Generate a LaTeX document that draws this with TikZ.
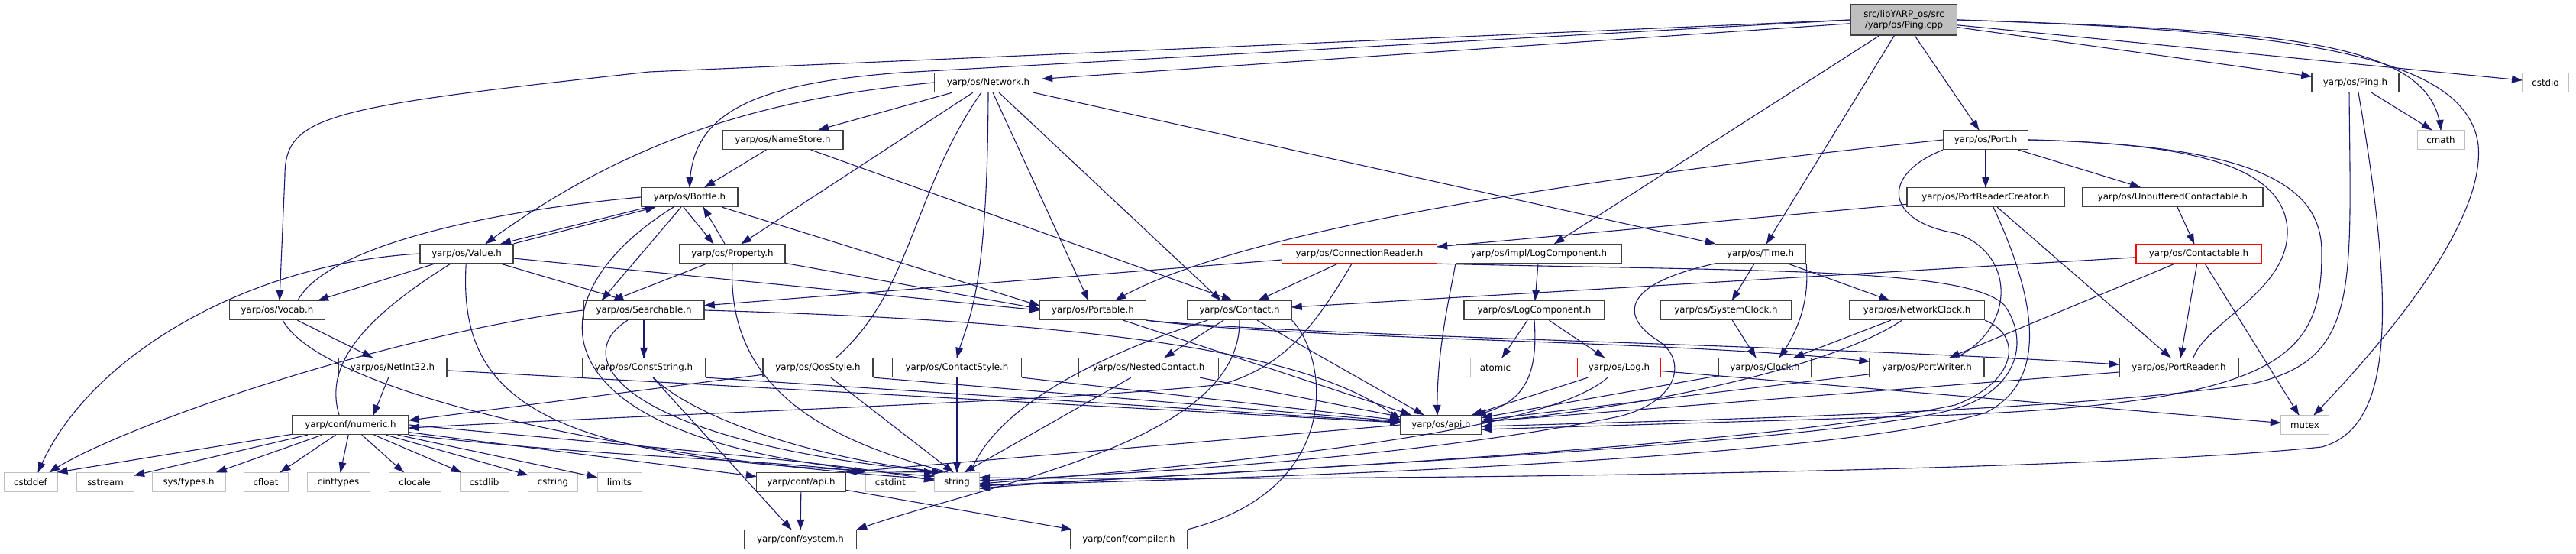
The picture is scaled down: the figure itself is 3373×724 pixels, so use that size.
\documentclass[tikz,border=0pt]{standalone}
\usepackage{fontspec}
\setmainfont{DejaVu Sans}
\usepackage{tikz}
\usetikzlibrary{decorations.markings}
\definecolor{EdgeBlue}{HTML}{191970}
\definecolor{BoxGrey}{HTML}{404040}
\definecolor{SysGrey}{HTML}{BFBFBF}
\definecolor{RootFill}{HTML}{BFBFBF}
\definecolor{WarnRed}{HTML}{FF0000}
\tikzset{
  % Base header box
  HB/.style={rectangle,minimum height=25pt,inner sep=0pt,
             text centered,align=center,draw,line width=1.3pt,fill=white,
             font=\fontsize{11.8}{14}\selectfont},
  % Box variants
  hN/.style={HB,draw=BoxGrey},
  hR/.style={HB,draw=WarnRed},
  hS/.style={HB,draw=SysGrey,line width=1pt},
  hT/.style={HB,draw=BoxGrey,fill=RootFill,minimum height=40pt},
  % Include arrow, head put on as a marking
  inc/.style={line width=1.1pt,EdgeBlue,
              postaction={decorate,decoration={markings,
                mark=at position 1 with {\fill[EdgeBlue] (0.5pt,0pt) -- (-13pt,5pt) -- (-13pt,-5pt) -- cycle;}}}}
}

\begin{document}
\begin{tikzpicture}[x=1pt,y=1pt]
  \useasboundingbox (0,0) rectangle (3373,-724);
  % Header boxes, row by row
  \node[hT,minimum width=139] (cpp) at (2493,-26) {src/libYARP\_os/src\\/yarp/os/Ping.cpp};
  \node[hN,minimum width=141] (net) at (1294,-108) {yarp/os/Network.h};
  \node[hN,minimum width=114] (pingh) at (3084,-108) {yarp/os/Ping.h};
  \node[hS,minimum width=61] (cstdio) at (3333,-108) {cstdio};
  \node[hN,minimum width=158] (names) at (1025,-183) {yarp/os/NameStore.h};
  \node[hN,minimum width=111] (port) at (2600,-183) {yarp/os/Port.h};
  \node[hS,minimum width=62] (cmath) at (3196,-183) {cmath};
  \node[hN,minimum width=126] (bottle) at (903,-258) {yarp/os/Bottle.h};
  \node[hN,minimum width=206] (prc) at (2600,-258) {yarp/os/PortReaderCreator.h};
  \node[hN,minimum width=236] (unbuf) at (2845,-258) {yarp/os/UnbufferedContactable.h};
  \node[hN,minimum width=122] (value) at (611,-332) {yarp/os/Value.h};
  \node[hN,minimum width=138] (prop) at (959,-332) {yarp/os/Property.h};
  \node[hR,minimum width=203] (connr) at (1780,-332) {yarp/os/ConnectionReader.h};
  \node[hN,minimum width=217] (implog) at (2015,-332) {yarp/os/impl/LogComponent.h};
  \node[hN,minimum width=119] (time) at (2305,-332) {yarp/os/Time.h};
  \node[hR,minimum width=164] (cable) at (2879,-332) {yarp/os/Contactable.h};
  \node[hN,minimum width=125] (vocab) at (363,-406) {yarp/os/Vocab.h};
  \node[hN,minimum width=158] (search) at (843,-406) {yarp/os/Searchable.h};
  \node[hN,minimum width=139] (portable) at (1431,-406) {yarp/os/Portable.h};
  \node[hN,minimum width=136] (contact) at (1623,-406) {yarp/os/Contact.h};
  \node[hN,minimum width=184] (logc) at (2009,-406) {yarp/os/LogComponent.h};
  \node[hN,minimum width=171] (sysclk) at (2260,-406) {yarp/os/SystemClock.h};
  \node[hN,minimum width=177] (netclk) at (2510,-406) {yarp/os/NetworkClock.h};
  \node[hN,minimum width=142] (netint) at (514,-481) {yarp/os/NetInt32.h};
  \node[hN,minimum width=161] (cstr) at (843,-481) {yarp/os/ConstString.h};
  \node[hN,minimum width=144] (qos) at (1071,-481) {yarp/os/QosStyle.h};
  \node[hN,minimum width=169] (cstyle) at (1253,-481) {yarp/os/ContactStyle.h};
  \node[hN,minimum width=183] (nested) at (1504,-481) {yarp/os/NestedContact.h};
  \node[hS,minimum width=66] (atomic) at (1958,-481) {atomic};
  \node[hR,minimum width=109] (log) at (2120,-481) {yarp/os/Log.h};
  \node[hN,minimum width=122] (clock) at (2311,-481) {yarp/os/Clock.h};
  \node[hN,minimum width=150] (pwriter) at (2523,-481) {yarp/os/PortWriter.h};
  \node[hN,minimum width=156] (preader) at (2853,-481) {yarp/os/PortReader.h};
  \node[hN,minimum width=152] (numeric) at (459,-556) {yarp/conf/numeric.h};
  \node[hN,minimum width=106] (osapi) at (1887,-556) {yarp/os/api.h};
  \node[hS,minimum width=63] (mutex) at (3018,-556) {mutex};
  \node[hS,minimum width=70] (cstddef) at (40,-631) {cstddef};
  \node[hS,minimum width=75] (sstream) at (138,-631) {sstream};
  \node[hS,minimum width=96] (systypes) at (247,-631) {sys/types.h};
  \node[hS,minimum width=58] (cfloat) at (348,-631) {cfloat};
  \node[hS,minimum width=82] (cinttypes) at (443,-631) {cinttypes};
  \node[hS,minimum width=68] (clocale) at (543,-631) {clocale};
  \node[hS,minimum width=64] (cstdlib) at (634,-631) {cstdlib};
  \node[hS,minimum width=65] (cstring) at (724,-631) {cstring};
  \node[hS,minimum width=58] (limits) at (811,-631) {limits};
  \node[hN,minimum width=117] (confapi) at (1049,-631) {yarp/conf/api.h};
  \node[hS,minimum width=66] (cstdint) at (1166,-631) {cstdint};
  \node[hS,minimum width=59] (string) at (1253,-631) {string};
  \node[hN,minimum width=147] (system) at (1048,-706) {yarp/conf/system.h};
  \node[hN,minimum width=153] (compiler) at (1478,-706) {yarp/conf/compiler.h};

  % Ping.cpp
  \draw[inc] (cpp) -- (net);
  \draw[inc] (cpp.west) -- (1180,-95) .. controls (980,-110) and (905,-150) .. (bottle.north);
  \draw[inc] (cpp.west) -- (850,-94) .. controls (430,-140) and (373,-150) .. (373,-230) -- ([xshift=3]vocab.north);
  \draw[inc] (cpp) -- (implog);
  \draw[inc] (cpp) -- (time);
  \draw[inc] (cpp) -- (port);
  \draw[inc] (cpp) -- (pingh);
  \draw[inc] (cpp) -- (cstdio);
  \draw[inc] (cpp.east) .. controls (3000,-40) and (3185,-55) .. (cmath.north);
  \draw[inc] (cpp.east) .. controls (3000,-40) and (3230,-70) .. (3245,-190) .. controls (3255,-300) and (3100,-470) .. ([xshift=12]mutex.north);
  % Ping.h
  \draw[inc] (pingh) -- ([xshift=-12]cmath.north);
  \draw[inc] ([xshift=-8]pingh.south) .. controls (3078,-380) and (3090,-470) .. (2950,-502) .. controls (2700,-540) and (2200,-550) .. ([yshift=-2]osapi.east);
  \draw[inc] ([xshift=4]pingh.south) .. controls (3140,-420) and (3130,-560) .. (3040,-585) .. controls (2700,-620) and (1700,-630) .. ([yshift=6]string.east);
  % Network.h
  \draw[inc] (net.west) .. controls (1050,-125) and (850,-160) .. ([xshift=25]value.north);
  \draw[inc] (net) -- (names);
  \draw[inc] (net) -- ([xshift=12]prop.north);
  \draw[inc] (net) .. controls (1195,-250) and (1195,-380) .. ([xshift=24]qos.north);
  \draw[inc] (net.south) .. controls (1293,-400) and (1265,-420) .. (cstyle.north);
  \draw[inc] (net) -- (portable);
  \draw[inc] (net) -- ([xshift=-25]contact.north);
  \draw[inc] (net) -- (time);
  % NameStore.h
  \draw[inc] (names) -- ([xshift=20]bottle.north);
  \draw[inc] (names) -- ([xshift=-10]contact.north);
  % Bottle.h
  \draw[inc] ([xshift=-55]bottle.south) -- ([xshift=45]value.north);
  \draw[inc] (value.north east) -- ([xshift=-45]bottle.south);
  \draw[inc] ([xshift=-8]bottle.south) -- ([xshift=-25]prop.north);
  \draw[inc] ([xshift=-10]prop.north) -- ([xshift=18]bottle.south);
  \draw[inc] (bottle) -- ([xshift=-55]search.north);
  \draw[inc] (bottle) -- ([yshift=6]portable.west);
  \draw[inc] (bottle.west) .. controls (650,-275) and (430,-320) .. ([xshift=27]vocab.north);
  \draw[inc] (bottle) .. controls (690,-390) and (680,-590) .. ([yshift=8]string.west);
  % Value.h
  \draw[inc] (value.west) .. controls (320,-345) and (110,-470) .. ([xshift=10]cstddef.north);
  \draw[inc] (value) -- ([xshift=54]vocab.north);
  \draw[inc] (value) .. controls (470,-420) and (425,-480) .. ([xshift=-15]numeric.north);
  \draw[inc] (value) .. controls (600,-520) and (700,-610) .. (string.north west);
  \draw[inc] (value) -- ([xshift=-25]search.north);
  \draw[inc] (value) -- (portable.west);
  % Property.h
  \draw[inc] (prop) -- ([xshift=-40]search.north);
  \draw[inc] (prop) -- ([yshift=2]portable.west);
  \draw[inc] (prop.south) .. controls (950,-520) and (1100,-580) .. ([xshift=-12]string.north);
  % Searchable.h
  \draw[inc] (search) -- (cstr);
  \draw[inc] (search.west) .. controls (500,-440) and (150,-560) .. ([xshift=25]cstddef.north);
  \draw[inc] (search.east) .. controls (1400,-420) and (1720,-455) .. ([yshift=6]osapi.west);
  \draw[inc] (search) .. controls (740,-470) and (820,-580) .. ([xshift=-20]string.north);
  % Vocab.h, NetInt32.h
  \draw[inc] (vocab) -- (netint);
  \draw[inc] (vocab) .. controls (420,-510) and (800,-600) .. ([yshift=4]string.west);
  \draw[inc] (netint) -- ([xshift=30]numeric.north);
  \draw[inc] (netint) -- (osapi);
  % ConstString.h
  \draw[inc] (cstr.south east) -- (osapi);
  \draw[inc] (cstr) .. controls (900,-540) and (1050,-600) .. ([xshift=-16]string.north);
  \draw[inc] (cstr) -- (system);
  % QosStyle.h, ContactStyle.h, NestedContact.h
  \draw[inc] (qos) -- ([yshift=6]numeric.east);
  \draw[inc] (qos) -- ([xshift=-5]string.north);
  \draw[inc] (qos.south east) -- (osapi);
  \draw[inc] (cstyle) -- (string.north);
  \draw[inc] (cstyle.south east) -- (osapi);
  \draw[inc] (nested) -- ([xshift=10]string.north);
  \draw[inc] (nested) -- (osapi);
  % Contact.h
  \draw[inc] (contact) -- (nested);
  \draw[inc] (contact) .. controls (1420,-470) and (1300,-540) .. ([xshift=18]string.north);
  \draw[inc] (contact.south) .. controls (1625,-580) and (1300,-630) .. (system.north east);
  \draw[inc] (contact.south east) .. controls (1740,-470) and (1760,-640) .. (compiler.north east);
  \draw[inc] (contact) -- (osapi);
  % Portable.h
  \draw[inc] (portable) -- (osapi);
  \draw[inc] (portable.south east) .. controls (1700,-445) and (2200,-445) .. ([yshift=8]pwriter.west);
  \draw[inc] (portable.south east) .. controls (1700,-440) and (2400,-452) .. ([yshift=4]preader.west);
  % Port.h
  \draw[inc] (port) -- (prc);
  \draw[inc] (port) -- (unbuf);
  \draw[inc] (port.west) .. controls (2000,-240) and (1600,-310) .. ([xshift=30]portable.north);
  \draw[inc] (port.east) .. controls (2880,-188) and (2990,-220) .. (2995,-300) .. controls (2998,-380) and (2890,-420) .. ([xshift=19]preader.north);
  \draw[inc] (port.east) .. controls (2950,-190) and (3040,-240) .. (3040,-330) .. controls (3040,-470) and (2990,-530) .. (2500,-545) -- ([yshift=-6]osapi.east);
  \draw[inc] (port.south west) .. controls (2460,-230) and (2470,-290) .. (2560,-305) .. controls (2640,-330) and (2640,-430) .. ([xshift=38]pwriter.north);
  % PortReaderCreator.h, UnbufferedContactable.h
  \draw[inc] (prc) -- (connr);
  \draw[inc] (prc) -- ([xshift=-11]preader.north);
  \draw[inc] ([xshift=10]prc.south) .. controls (2670,-400) and (2680,-500) .. (2600,-540) .. controls (2400,-600) and (1700,-625) .. ([yshift=-4]string.east);
  \draw[inc] (unbuf) -- (cable);
  % Contactable.h
  \draw[inc] (cable) -- (contact);
  \draw[inc] (cable) -- ([xshift=30]pwriter.north);
  \draw[inc] (cable) -- (preader);
  \draw[inc] (cable) -- ([xshift=-8]mutex.north);
  % ConnectionReader.h
  \draw[inc] (connr) -- ([xshift=25]contact.north);
  \draw[inc] (connr) -- (search);
  \draw[inc] ([xshift=-10]connr.south) .. controls (1720,-430) and (1680,-480) .. (1600,-503) .. controls (1400,-525) and (900,-540) .. ([yshift=-4]numeric.east);
  \draw[inc] (connr.south east) .. controls (2300,-355) and (2580,-350) .. (2625,-400) .. controls (2660,-450) and (2640,-520) .. (2540,-540) .. controls (2300,-590) and (1500,-620) .. ([yshift=-8]string.east);
  % impl/LogComponent.h, LogComponent.h, Log.h
  \draw[inc] (implog) -- (logc);
  \draw[inc] (implog.south west) .. controls (1900,-380) and (1880,-460) .. ([xshift=-5]osapi.north);
  \draw[inc] (logc) -- (atomic);
  \draw[inc] (logc) -- (log);
  \draw[inc] (logc.south) .. controls (2015,-500) and (1990,-530) .. ([xshift=-8]osapi.north east);
  \draw[inc] (log) -- (osapi);
  \draw[inc] (log) -- (mutex);
  \draw[inc] (log) .. controls (2030,-560) and (1700,-600) .. ([yshift=-2]string.east);
  % Time.h and clocks
  \draw[inc] (time) -- (sysclk);
  \draw[inc] (time.south east) .. controls (2370,-400) and (2350,-440) .. ([xshift=19]clock.north);
  \draw[inc] (time) -- (netclk);
  \draw[inc] (time.south west) .. controls (2110,-375) and (2130,-420) .. (2170,-445) .. controls (2210,-470) and (2200,-525) .. (2120,-545) .. controls (1900,-590) and (1600,-615) .. ([yshift=2]string.east);
  \draw[inc] (sysclk) -- ([xshift=-12]clock.north);
  \draw[inc] (netclk) -- ([xshift=38]clock.north);
  \draw[inc] (netclk) .. controls (2400,-480) and (2150,-535) .. ([yshift=4]osapi.east);
  \draw[inc] (netclk.south east) .. controls (2650,-440) and (2640,-500) .. (2560,-530) .. controls (2300,-585) and (1600,-620) .. ([yshift=-5]string.east);
  \draw[inc] (clock) -- (osapi);
  \draw[inc] (pwriter) -- (osapi);
  \draw[inc] (preader) -- (osapi);
  % yarp/os/api.h, yarp/conf/api.h
  \draw[inc] (osapi.west) -- (confapi.north east);
  \draw[inc] (confapi) -- (system);
  \draw[inc] (confapi) -- (compiler);
  % yarp/conf/numeric.h
  \draw[inc] (numeric) -- (cstddef.north east);
  \draw[inc] (numeric) -- (sstream);
  \draw[inc] (numeric) -- (systypes);
  \draw[inc] (numeric) -- (cfloat);
  \draw[inc] (numeric) -- (cinttypes);
  \draw[inc] (numeric) -- (clocale);
  \draw[inc] (numeric) -- (cstdlib);
  \draw[inc] (numeric) -- (cstring);
  \draw[inc] (numeric) -- (limits);
  \draw[inc] (numeric) -- (confapi);
  \draw[inc] (numeric.south east) .. controls (800,-600) and (1000,-600) .. (cstdint.north west);
  \draw[inc] (numeric.east) .. controls (900,-590) and (1100,-605) .. ([yshift=2]string.west);
\end{tikzpicture}
\end{document}
